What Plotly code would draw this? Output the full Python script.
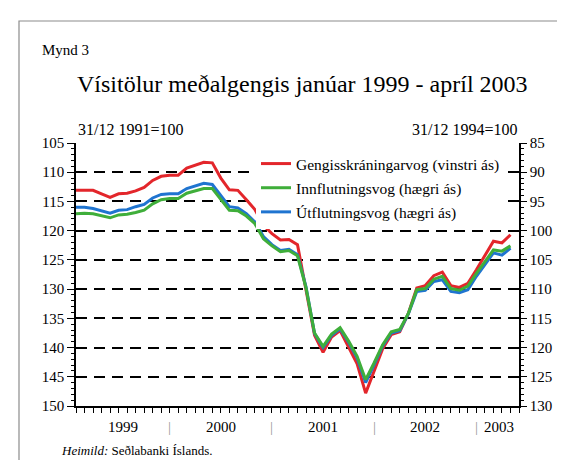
import plotly.graph_objects as go

months = [f"{y}-{m:02d}" for y in range(1999, 2004) for m in range(1, 13)][:52]

gengisskraningarvog = [
    113.1, 113.1, 113.1, 113.7, 114.3, 113.7, 113.6, 113.2, 112.6, 111.4, 110.7, 110.5,
    110.5, 109.3, 108.8, 108.3, 108.4, 111.0, 113.0, 113.1, 114.7, 116.4, 119.1, 120.5,
    121.6, 121.5, 122.4, 130.3, 137.9, 140.8, 138.2, 137.1, 139.9, 142.8, 147.8, 144.1,
    140.2, 137.8, 137.3, 134.2, 129.8, 129.4, 127.7, 127.1, 129.4, 129.7, 129.0, 126.7,
    124.2, 121.8, 122.1, 120.7,
]
innflutningsvog = [
    97.1, 97.0, 97.1, 97.4, 97.8, 97.3, 97.2, 96.9, 96.5, 95.4, 94.7, 94.5,
    94.5, 93.6, 93.2, 92.8, 92.8, 94.7, 96.5, 96.6, 97.5, 98.8, 101.4, 102.6,
    103.6, 103.4, 104.3, 109.8, 117.5, 119.8, 117.7, 116.6, 118.9, 121.5, 125.5, 122.6,
    119.5, 117.3, 116.9, 114.2, 110.1, 109.9, 108.3, 107.8, 109.9, 110.2, 109.5, 107.3,
    105.3, 103.3, 103.5, 102.6,
]
utflutningsvog = [
    96.0, 96.0, 96.2, 96.6, 97.0, 96.5, 96.4, 95.9, 95.5, 94.4, 93.8, 93.7,
    93.7, 92.8, 92.3, 91.9, 92.1, 94.1, 95.9, 96.1, 97.1, 98.5, 101.0, 102.4,
    103.4, 103.2, 104.1, 109.6, 117.6, 120.0, 117.9, 116.8, 119.1, 121.8, 126.0, 122.9,
    119.7, 117.5, 117.1, 114.3, 110.4, 110.2, 108.7, 108.4, 110.4, 110.6, 110.1, 107.8,
    105.9, 103.8, 104.2, 103.0,
]
year_labels = ["1999", "2000", "2001", "2002", "2003"]
year_label_pos = [5.5, 17, 29, 41, 49.7]
year_separators = [11, 23, 35, 47]

x = list(range(len(months)))
FONT = "Liberation Serif"
RED, GREEN, BLUE = "#e3262b", "#3fae3a", "#1f74d0"

fig = go.Figure()
fig.add_trace(go.Scatter(x=x, y=utflutningsvog, yaxis="y2", mode="lines",
                         line=dict(color=BLUE, width=3),
                         name="Útflutningsvog (hægri ás)", legendrank=3, legendgroup="c"))
fig.add_trace(go.Scatter(x=x, y=innflutningsvog, yaxis="y2", mode="lines",
                         line=dict(color=GREEN, width=3),
                         name="Innflutningsvog (hægri ás)", legendrank=2, legendgroup="b"))
fig.add_trace(go.Scatter(x=x, y=gengisskraningarvog, yaxis="y", mode="lines",
                         line=dict(color=RED, width=3),
                         name="Gengisskráningarvog (vinstri ás)", legendrank=1, legendgroup="a"))

L, R, T, B = 68, 511, 135, 398
W, H = 565, 460
pw, ph = R - L, B - T

def px(xp):
    return (xp - L) / pw

def py(yp):
    return (B - yp) / ph

fig.update_layout(
    width=W, height=H,
    margin=dict(l=L, r=W - R, t=T, b=H - B, pad=0),
    paper_bgcolor="white", plot_bgcolor="white",
    font=dict(family=FONT, size=15, color="black"),
    showlegend=True,
    legend=dict(x=px(248), y=py(139), xanchor="left", yanchor="top",
                bgcolor="white", borderwidth=0, font=dict(size=15.5, family=FONT),
                traceorder="grouped", tracegroupgap=1, itemwidth=30),
    xaxis=dict(range=[0, 52], tickmode="array", tickvals=list(range(0, 53)),
               ticks="outside", ticklen=5, tickcolor="black", tickwidth=1,
               showticklabels=False, showgrid=False, zeroline=False,
               showline=True, linecolor="black", linewidth=1.5),
    yaxis=dict(range=[150, 105], tick0=105, dtick=5, ticks="outside", ticklen=7,
               tickcolor="black", tickwidth=1, showline=True, linecolor="black",
               linewidth=1.5, zeroline=False, showgrid=True, gridcolor="black",
               gridwidth=2, griddash="11px,7px",
               minor=dict(dtick=1, ticks="outside", ticklen=3, tickcolor="black",
                          showgrid=False),
               tickfont=dict(size=15, family=FONT)),
    yaxis2=dict(range=[130, 85], tick0=85, dtick=5, overlaying="y", side="right",
                ticks="outside", ticklen=6, tickcolor="black", tickwidth=1,
                showline=True, linecolor="black", linewidth=1.5, zeroline=False,
                showgrid=False,
                minor=dict(dtick=1, ticks="outside", ticklen=3, tickcolor="black",
                           showgrid=False),
                tickfont=dict(size=15, family=FONT)),
)

ann = []
ann.append(dict(text="Mynd 3", x=px(32), y=py(42), xref="paper", yref="paper",
                xanchor="left", yanchor="middle", showarrow=False,
                font=dict(size=15, family=FONT)))
ann.append(dict(text="Vísitölur meðalgengis janúar 1999 - apríl 2003", x=px(294), y=py(76),
                xref="paper", yref="paper", xanchor="center", yanchor="middle",
                showarrow=False, font=dict(size=24, family=FONT)))
ann.append(dict(text="31/12 1991=100", x=0, y=py(121), xref="paper", yref="paper",
                xanchor="left", yanchor="middle", showarrow=False,
                font=dict(size=16, family=FONT)))
ann.append(dict(text="31/12 1994=100", x=1, y=py(121), xref="paper", yref="paper",
                xanchor="right", yanchor="middle", showarrow=False,
                font=dict(size=16, family=FONT)))
for lab, pos in zip(year_labels, year_label_pos):
    ann.append(dict(text=lab, x=pos, y=py(419), xref="x", yref="paper",
                    xanchor="center", yanchor="middle", showarrow=False,
                    font=dict(size=15, family=FONT)))
for s in year_separators:
    ann.append(dict(text="|", x=s, y=py(419), xref="x", yref="paper",
                    xanchor="center", yanchor="middle", showarrow=False,
                    font=dict(size=15, family=FONT, color="#999999")))
ann.append(dict(text="<i>Heimild:</i> Seðlabanki Íslands.", x=px(51), y=py(442),
                xref="paper", yref="paper", xanchor="left", yanchor="middle",
                showarrow=False, font=dict(size=13, family=FONT)))
fig.update_layout(annotations=ann)

fig.add_shape(type="rect", xref="paper", yref="paper",
              x0=px(11), y0=py(480), x1=px(600), y1=py(13),
              line=dict(color="#8c8c8c", width=1.2), fillcolor="rgba(0,0,0,0)",
              layer="below")

fig.write_html("out.html")
